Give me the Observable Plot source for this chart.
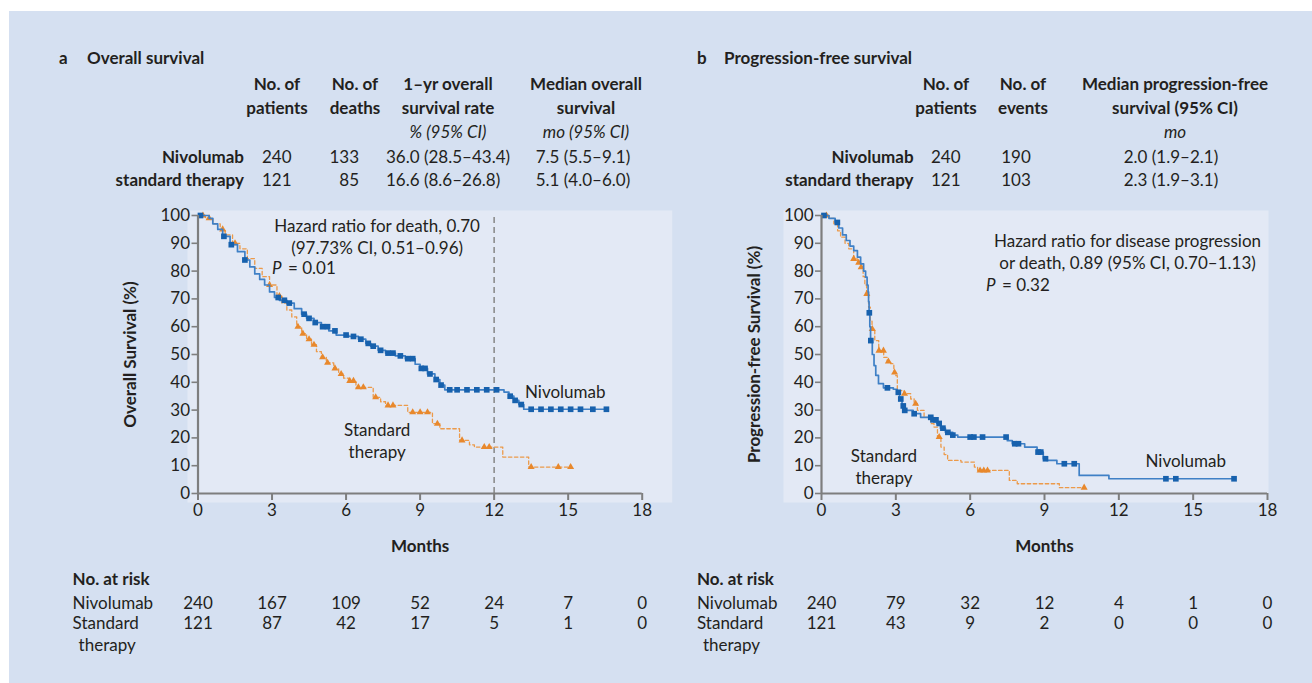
<!DOCTYPE html>
<html><head><meta charset="utf-8">
<script src="https://cdn.jsdelivr.net/npm/d3@7"></script>
<script src="https://cdn.jsdelivr.net/npm/@observablehq/plot@0.6"></script>
<style>
html,body{margin:0;padding:0;background:#fff;}
body{width:1312px;height:683px;position:relative;overflow:hidden;font-family:Lato,"Open Sans",sans-serif;color:#231f20;}
#bg{position:absolute;left:9px;top:11px;right:0;bottom:0;background:#d5e0f1;}
.t{position:absolute;white-space:nowrap;font-size:17px;line-height:20px;height:20px;}
.b{font-weight:bold}
.i{font-style:italic}
.chart{position:absolute;}
.chart svg g[aria-label="x-axis label"] text,.chart svg g[aria-label="y-axis label"] text{font-weight:bold;}
</style></head><body>
<div id="bg"></div>
<script>
// ---------------- data ----------------
const monthTicks = [0, 3, 6, 9, 12, 15, 18];
const pctTicks = [0, 10, 20, 30, 40, 50, 60, 70, 80, 90, 100];
const landmark = [12];

// Overall survival, Nivolumab: [month, % alive] step points
const osNivoSteps = [[0,100],[0.45,99],[0.6,97],[0.8,95],[1.0,92.5],[1.3,89.5],[1.6,87],[1.9,84],[2.1,81.5],[2.3,79],[2.5,77],[2.7,75],[2.9,72.5],[3.1,70.5],[3.3,69.5],[3.6,68.5],[3.9,66.5],[4.2,64.5],[4.4,63],[4.7,61.5],[5.0,60],[5.3,58.5],[5.6,57],[6.1,56.5],[6.5,55.5],[6.8,54],[7.0,53],[7.3,51.5],[7.6,50.5],[8.0,49.5],[8.4,48.5],[8.8,46.5],[9.0,45],[9.3,43],[9.6,41],[9.8,39],[10.0,37.3],[12.4,36.5],[12.6,35],[12.8,33.5],[13.0,32],[13.2,30.3]];
const osNivoEnd = 16.6;
const osNivoCensor = [0.1,1.05,1.35,1.9,3.25,3.5,3.7,4.3,4.5,4.75,5.05,5.25,5.55,6.0,6.3,6.6,6.9,7.1,7.4,7.7,7.9,8.2,8.5,8.7,9.05,9.2,9.4,9.65,9.85,10.2,10.5,10.9,11.3,11.7,12.1,12.65,12.85,13.1,13.5,13.9,14.3,14.7,15.1,15.5,16.0,16.55];

// Overall survival, standard therapy
const osStdSteps = [[0,100],[0.3,99],[0.6,97],[0.9,95],[1.1,93],[1.4,90],[1.7,88],[2.0,84.5],[2.3,81],[2.6,78],[2.9,75],[3.2,71],[3.4,68.5],[3.6,66],[3.8,63.5],[4.0,60],[4.2,57.5],[4.4,55.5],[4.6,53.5],[4.8,51],[5.0,49],[5.2,47],[5.5,45],[5.7,43],[5.9,41.5],[6.1,40.5],[6.4,38.2],[7.1,34.6],[7.4,33],[7.6,31.7],[8.5,29.2],[9.5,25.1],[9.8,23.3],[10.6,19.1],[11.0,17.5],[11.2,16.7],[12.35,13.1],[13.4,9.5]];
const osStdEnd = 15.1;
const osStdCensor = [0.2,0.45,1.0,1.5,2.9,3.3,4.05,4.25,4.5,4.7,5.05,5.25,5.55,5.8,6.15,6.3,6.5,6.7,7.2,7.7,7.9,8.7,9.0,9.3,9.7,10.7,11.6,11.8,13.5,14.6,15.1];

// Progression-free survival, Nivolumab
const pfsNivoSteps = [[0,100],[0.3,99],[0.55,97.5],[0.7,95.5],[0.85,93],[1.0,91],[1.15,89],[1.3,87.4],[1.45,85],[1.58,82.6],[1.7,80],[1.78,77.8],[1.84,75],[1.88,72.5],[1.9,69],[1.92,65],[1.95,60],[1.98,55],[2.05,50],[2.12,46],[2.19,42.5],[2.3,39.5],[2.5,38],[2.9,37.5],[3.05,36.4],[3.15,34],[3.25,31.5],[3.35,29.9],[3.7,28.7],[4.0,27.4],[4.5,26.5],[4.65,25.2],[4.8,23.5],[5.0,22],[5.3,21],[5.5,20.3],[7.5,19],[7.7,17.9],[8.2,16.7],[8.7,14.9],[8.95,12.5],[9.1,11.9],[9.5,10.7],[10.4,6.5],[11.6,5.3]];
const pfsNivoEnd = 16.7;
const pfsNivoCensor = [0.1,0.64,1.93,1.99,2.66,3.1,3.2,3.3,3.36,3.74,4.41,4.5,4.62,4.75,4.9,5.1,5.3,6.0,6.15,6.5,7.45,7.8,7.95,8.74,8.85,9.04,9.8,10.2,13.9,14.3,16.65];

// Progression-free survival, standard therapy
const pfsStdSteps = [[0,100],[0.3,99],[0.5,97],[0.65,94.5],[0.77,92.2],[0.95,90],[1.1,88],[1.3,84.4],[1.45,83],[1.58,81.4],[1.68,78],[1.75,75],[1.82,71.8],[1.9,67],[1.97,62],[2.04,59.2],[2.15,55],[2.31,51.4],[2.51,49],[2.65,47.5],[2.79,46.7],[2.92,43.5],[3.0,42.4],[3.06,37],[3.33,35.9],[3.6,34],[3.74,32.3],[3.87,29.9],[4.14,27.4],[4.41,25.1],[4.54,23.9],[4.68,20.3],[4.82,16.7],[4.95,14],[5.09,11.9],[5.63,11.3],[6.17,9.5],[6.3,8.3],[7.58,4.7],[7.9,3.5],[9.6,2.1]];
const pfsStdEnd = 10.6;
const pfsStdCensor = [0.2,1.3,1.5,1.6,1.83,2.05,2.32,2.5,2.7,2.95,3.35,3.8,4.75,6.4,6.55,6.7,10.6];

// Number at risk
const riskArms = ["Nivolumab", "Standard therapy"];
const osRiskNivo = [240,167,109,52,24,7,0];
const osRiskStd = [121,87,42,17,5,1,0];
const pfsRiskNivo = [240,79,32,12,4,1,0];
const pfsRiskStd = [121,43,9,2,0,0,0];

// Summary tables
const osHeaders = [["No. of","patients",""],["No. of","deaths",""],["1–yr overall","survival rate","% (95% CI)"],["Median overall","survival","mo (95% CI)"]];
const osRowLabels = ["Nivolumab","standard therapy"];
const osPatients = ["240","121"];
const osDeaths = ["133","85"];
const osRate = ["36.0 (28.5–43.4)","16.6 (8.6–26.8)"];
const osMedian = ["7.5 (5.5–9.1)","5.1 (4.0–6.0)"];
const pfsHeaders = [["No. of","patients",""],["No. of","events",""],["Median progression-free","survival (95% CI)","mo"]];
const pfsRowLabels = ["Nivolumab","standard therapy"];
const pfsPatients = ["240","121"];
const pfsEvents = ["190","103"];
const pfsMedian = ["2.0 (1.9–2.1)","2.3 (1.9–3.1)"];

// Annotations (data units)
const osHR = [{x:7.26, y:92.5, text:"Hazard ratio for death, 0.70\n(97.73% CI, 0.51–0.96)"}];
const osP = [{x:3.0, y:80.8, p:"P", v:"= 0.01"}];
const osArmLabels = [{x:13.25, y:36.8, text:"Nivolumab", a:"start"}, {x:7.26, y:19.4, text:"Standard\ntherapy", a:"middle"}];
const pfsHR = [{x:12.35, y:87.3, text:"Hazard ratio for disease progression\nor death, 0.89 (95% CI, 0.70–1.13)"}];
const pfsP = [{x:6.64, y:74.8, p:"P", v:"= 0.32"}];
const pfsArmLabels = [{x:14.7, y:11.9, text:"Nivolumab", a:"middle"}, {x:2.52, y:9.8, text:"Standard\ntherapy", a:"middle"}];

// ---------------- style ----------------
const BLUE = "#3f80c6", BLUE_D = "#1761ad", ORANGE = "#ec9a4a", ORANGE_D = "#e8882c";
const AXIS = "#7e7e7e", PLOT_BG = "#e3e9f5", INK = "#231f20";

function curve(steps, end){ return [...steps.map(([t,s])=>({t,s})), {t:end, s:steps[steps.length-1][1]}]; }
function at(steps, t){ let s = steps[0][1]; for (const [u,v] of steps) if (u <= t) s = v; return s; }
function censor(steps, times){ return times.map(t=>({t, s:at(steps,t)})); }

function place(text, x, y, anchor, cls){
  const d = document.createElement("div");
  d.className = "t " + (cls||"");
  d.textContent = text;
  d.style.left = x + "px";
  d.style.top = (y - 10) + "px";
  if (anchor === "middle") d.style.transform = "translateX(-50%)";
  if (anchor === "end") d.style.transform = "translateX(-100%)";
  document.body.appendChild(d);
}

function km(o){
  const marks = [
    Plot.frame({fill: PLOT_BG, stroke: "none", insetLeft: o.bg[0], insetTop: -5, insetRight: o.bg[1], insetBottom: -9}),
  ];
  if (o.landmark) marks.push(Plot.ruleX(o.landmark, {y1: 0, y2: 100, stroke: "#8c8c8c", strokeWidth: 1.6, strokeDasharray: "6,4"}));
  marks.push(
    Plot.line(curve(o.std, o.stdEnd), {x:"t", y:"s", curve:"step-after", stroke: ORANGE, strokeWidth: 1.3, strokeDasharray: "3.5,2.5"}),
    Plot.dot(censor(o.std, o.stdC), {x:"t", y:"s", symbol:"triangle", r: 2.6, fill: ORANGE_D, stroke: "none"}),
    Plot.line(curve(o.nivo, o.nivoEnd), {x:"t", y:"s", curve:"step-after", stroke: BLUE, strokeWidth: 1.7}),
    Plot.dot(censor(o.nivo, o.nivoC), {x:"t", y:"s", symbol:"square", r: 3.2, fill: BLUE_D, stroke: "none"}),
    Plot.ruleY([0], {stroke: AXIS, strokeWidth: 2.2}),
    Plot.ruleX([0], {stroke: AXIS, strokeWidth: 2.2}),
    Plot.axisX(monthTicks, {tickSize: 7, tickPadding: 3, stroke: AXIS, strokeWidth: 2, fill: INK, fontSize: 17, label: "Months", labelAnchor: "center", labelOffset: 58, labelArrow: "none"}),
    Plot.axisY(pctTicks, {tickSize: 6, tickPadding: 2, stroke: AXIS, strokeWidth: 1.6, fill: INK, fontSize: 17, label: o.yLabel, labelAnchor: "center", labelOffset: o.yOff, labelArrow: "none"}),
    Plot.text(o.hr, {x:"x", y:"y", text:"text", textAnchor:"middle", lineAnchor:"middle", lineHeight: 1.3, fontSize: 17, fill: INK}),
    Plot.text(o.p, {x:"x", y:"y", text:"p", textAnchor:"start", fontStyle:"italic", fontSize: 17, fill: INK}),
    Plot.text(o.p, {x:"x", y:"y", text:"v", textAnchor:"start", dx: 16, fontSize: 17, fill: INK}),
    Plot.text(o.arms.filter(d=>d.a==="start"), {x:"x", y:"y", text:"text", textAnchor:"start", lineHeight: 1.3, fontSize: 17, fill: INK}),
    Plot.text(o.arms.filter(d=>d.a==="middle"), {x:"x", y:"y", text:"text", textAnchor:"middle", lineHeight: 1.3, fontSize: 17, fill: INK})
  );
  const svg = Plot.plot({
    width: 580, height: 360, marginLeft: o.ml, marginRight: o.mr, marginTop: 15, marginBottom: 67,
    style: {background: "transparent", fontFamily: "Lato, 'Open Sans', sans-serif", fontSize: "17px", color: INK, overflow: "visible"},
    x: {domain: [0, 18]}, y: {domain: [0, 100]},
    marks
  });
  const wrap = document.createElement("div");
  wrap.className = "chart";
  wrap.style.left = o.left + "px"; wrap.style.top = "200px";
  wrap.appendChild(svg);
  document.body.appendChild(wrap);
}

function risk(o){
  const rows = [];
  monthTicks.forEach((m,i)=>{ rows.push({m, arm: riskArms[0], n: o.nivo[i]}); rows.push({m, arm: riskArms[1], n: o.std[i]}); });
  const svg = Plot.plot({
    width: 580, height: 80, marginLeft: o.ml, marginRight: o.mr, marginTop: 0, marginBottom: 0,
    style: {background: "transparent", fontFamily: "Lato, 'Open Sans', sans-serif", fontSize: "17px", color: INK, overflow: "visible"},
    x: {domain: [0, 18], axis: null},
    y: {type: "point", domain: riskArms, range: [38, 58], padding: 0, axis: null},
    marks: [Plot.text(rows, {x:"m", y:"arm", text:"n", textAnchor:"middle", fontSize: 17, fill: INK})]
  });
  const wrap = document.createElement("div");
  wrap.className = "chart";
  wrap.style.left = o.left + "px"; wrap.style.top = "565px";
  wrap.appendChild(svg);
  document.body.appendChild(wrap);
  place("No. at risk", o.labX, 579, "start", "b");
  place(riskArms[0], o.labX, 603, "start");
  place("Standard", o.labX, 623, "start");
  place("therapy", o.labX + 6, 645, "start");
}

// ---------------- panel a ----------------
place("a", 59, 58, "start", "b");
place("Overall survival", 87, 58, "start", "b");
const osColX = [277, 355, 448, 586];
osHeaders.forEach((h,i)=>{ place(h[0], osColX[i], 84, "middle", "b"); place(h[1], osColX[i], 108, "middle", "b"); if (h[2]) place(h[2], osColX[i], 132, "middle", "i"); });
[157, 180].forEach((y,r)=>{
  place(osRowLabels[r], 244, y, "end", "b");
  place(osPatients[r], 262, y, "start");
  place(osDeaths[r], 359, y, "end");
  place(osRate[r], 386, y, "start");
  place(osMedian[r], 583, y, "middle");
});
km({left: 100, ml: 97.5, mr: 38.3, bg: [-10.5, -30], yOff: 74, yLabel: "Overall Survival (%)",
    nivo: osNivoSteps, nivoEnd: osNivoEnd, nivoC: osNivoCensor, std: osStdSteps, stdEnd: osStdEnd, stdC: osStdCensor,
    landmark, hr: osHR, p: osP, arms: osArmLabels});
risk({left: 100, ml: 97.5, mr: 38.3, labX: 72.6, nivo: osRiskNivo, std: osRiskStd});

// ---------------- panel b ----------------
place("b", 697, 58, "start", "b");
place("Progression-free survival", 724, 58, "start", "b");
const pfsColX = [946, 1023, 1175];
pfsHeaders.forEach((h,i)=>{ place(h[0], pfsColX[i], 84, "middle", "b"); place(h[1], pfsColX[i], 108, "middle", "b"); if (h[2]) place(h[2], pfsColX[i], 132, "middle", "i"); });
[157, 180].forEach((y,r)=>{
  place(pfsRowLabels[r], 913.6, y, "end", "b");
  place(pfsPatients[r], 931, y, "start");
  place(pfsEvents[r], 1016, y, "middle");
  place(pfsMedian[r], 1171, y, "middle");
});
km({left: 720, ml: 101, mr: 33, bg: [-38, -1], yOff: 74, yLabel: "Progression-free Survival (%)",
    nivo: pfsNivoSteps, nivoEnd: pfsNivoEnd, nivoC: pfsNivoCensor, std: pfsStdSteps, stdEnd: pfsStdEnd, stdC: pfsStdCensor,
    landmark: null, hr: pfsHR, p: pfsP, arms: pfsArmLabels});
risk({left: 720, ml: 101, mr: 33, labX: 697, nivo: pfsRiskNivo, std: pfsRiskStd});
</script>
</body></html>
